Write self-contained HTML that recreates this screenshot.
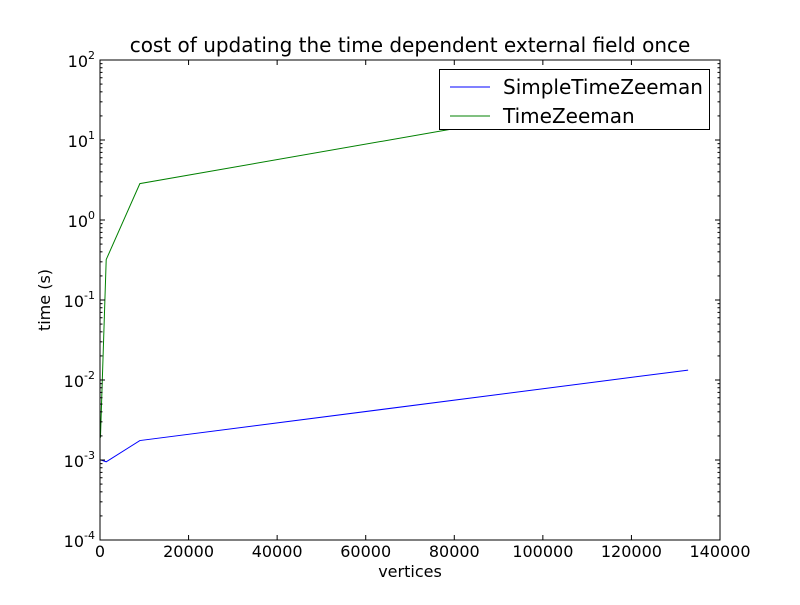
<!DOCTYPE html>
<html><head><meta charset="utf-8"><style>
html,body{margin:0;padding:0;background:#fff;}
svg text{font-family:"DejaVu Sans","Liberation Sans",sans-serif;fill:#000;}
</style></head><body>
<svg id="chart" width="800" height="600" xmlns="http://www.w3.org/2000/svg">
<rect x="0" y="0" width="800" height="600" fill="#fff"/>
<g id="plot"></g>
</svg>
<script>
const xTicks=[0,20000,40000,60000,80000,100000,120000,140000];
const yExps=[-4,-3,-2,-1,0,1,2];
const blueX=[200,1400,9000,132800];
const blueY=[1.0e-3,9.5e-4,1.75e-3,1.33e-2];
const greenX=[100,1400,9000,132800];
const greenY=[1.9e-3,0.32,2.85,45];
const seriesNames=["SimpleTimeZeeman","TimeZeeman"];

const L=100,R=720,T=60,B=540;
const NS="http://www.w3.org/2000/svg";
const g=document.getElementById('plot');
function xs(v){return L+(v-0)/(140000-0)*(R-L);}
function ys(v){return T+(2-Math.log10(v))/6*(B-T);}
function mk(tag,attrs,parent){const e=document.createElementNS(NS,tag);for(const k in attrs)e.setAttribute(k,attrs[k]);(parent||g).appendChild(e);return e;}

function line(xa,ya,color,name){
  const p=mk('polyline',{points:xa.map((x,i)=>xs(x)+','+ys(ya[i])).join(' '),fill:'none',stroke:color,'stroke-width':1});
  
  
}
line(blueX,blueY,'#0000ff','series-simple-time-zeeman');
line(greenX,greenY,'#008000','series-time-zeeman');

const fr=mk('rect',{x:L,y:T,width:R-L,height:B-T,fill:'none',stroke:'#000','stroke-width':1});



xTicks.forEach(v=>{
  const x=xs(v);
  mk('line',{x1:x,y1:B,x2:x,y2:B-5,stroke:'#000'});
  mk('line',{x1:x,y1:T,x2:x,y2:T+5,stroke:'#000'});
  const t=mk('text',{x:x,y:B+17,'text-anchor':'middle','font-size':16});
  t.textContent=String(v);
  
  
});
yExps.forEach((e,i)=>{
  const y=ys(Math.pow(10,e));
  mk('line',{x1:L,y1:y,x2:L+5,y2:y,stroke:'#000'});
  mk('line',{x1:R,y1:y,x2:R-5,y2:y,stroke:'#000'});
  if(i<yExps.length-1){
    for(let m=2;m<10;m++){
      const ym=ys(m*Math.pow(10,e));
      mk('line',{x1:L,y1:ym,x2:L+2.5,y2:ym,stroke:'#000'});
      mk('line',{x1:R,y1:ym,x2:R-2.5,y2:ym,stroke:'#000'});
    }
  }
  const t=mk('text',{x:L-5,y:y+7,'text-anchor':'end','font-size':16});
  
  
  const a=document.createElementNS(NS,'tspan');a.textContent='10';t.appendChild(a);
  const b=document.createElementNS(NS,'tspan');b.setAttribute('dy','-8');b.setAttribute('font-size','11');b.textContent=String(e);t.appendChild(b);
});

let t=mk('text',{x:410,y:52,'text-anchor':'middle','font-size':20});
t.textContent='cost of updating the time dependent external field once';

t=mk('text',{x:410,y:577,'text-anchor':'middle','font-size':16});
t.textContent='vertices';

t=mk('text',{x:50,y:300,'text-anchor':'middle','font-size':16,transform:'rotate(-90 50 300)'});
t.textContent='time (s)';


const lg=mk('g',{});

mk('rect',{x:439.5,y:69.5,width:270,height:60,fill:'#fff',stroke:'#000'},lg);
const colors=['#0000ff','#008000'];
seriesNames.forEach((n,i)=>{
  const y=87+i*29;
  mk('line',{x1:450,y1:y,x2:490,y2:y,stroke:colors[i]},lg);
  const tx=mk('text',{x:503,y:y+7,'font-size':20},lg);
  tx.textContent=n;
  
  
});
</script>
</body></html>
